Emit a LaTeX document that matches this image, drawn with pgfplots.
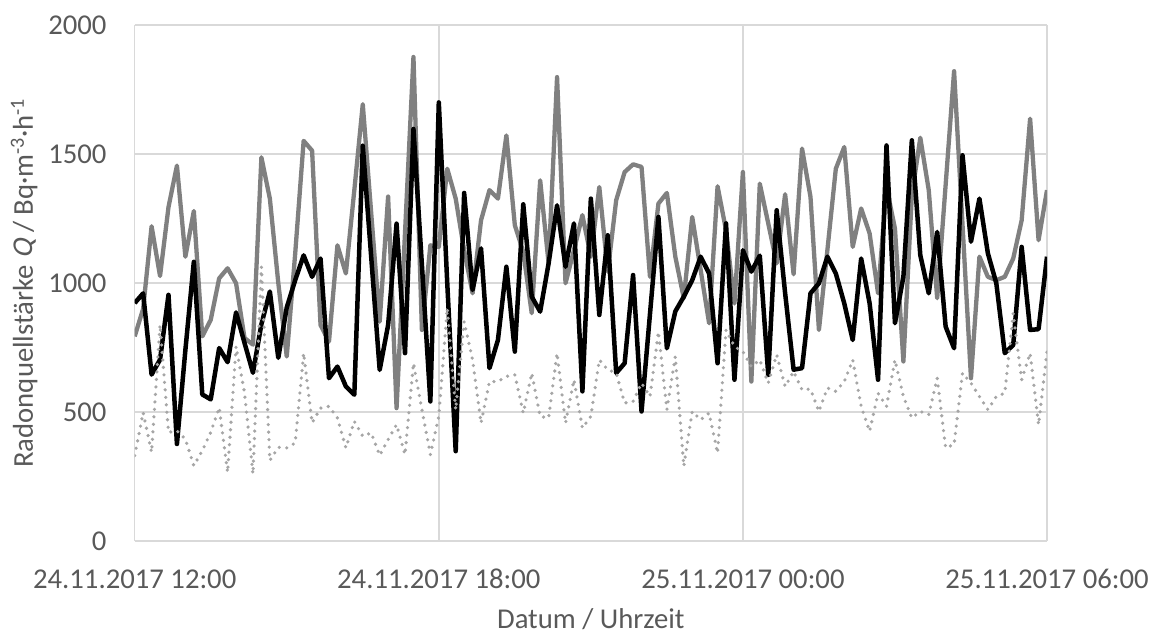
\documentclass[border=0pt]{standalone}
\usepackage{fontspec}
\setmainfont{Carlito}
\newfontfamily\slantfont{Carlito}[FakeSlant=0.2]
\usepackage{pgfplots}
\usepackage{pgfplotstable}
\pgfplotsset{compat=1.18}
\definecolor{txt}{HTML}{595959}
\definecolor{gridc}{HTML}{D9D9D9}
\definecolor{sgrey}{HTML}{808080}
\definecolor{sdot}{HTML}{A6A6A6}

\pgfplotstableread{
i g b d
0 793 922 331
1 900 960 498
2 1220 645 344
3 1027 703 838
4 1294 954 421
5 1455 376 427
6 1102 740 395
7 1279 1082 292
8 793 568 350
9 857 549 421
10 1018 748 517
11 1057 693 266
12 999 886 754
13 787 768 575
14 761 652 260
15 1487 840 1063
16 1327 967 312
17 1000 710 363
18 715 905 361
19 1114 1011 380
20 1551 1107 728
21 1513 1024 458
22 837 1095 515
23 773 631 522
24 1146 676 477
25 1037 599 361
26 1360 567 464
27 1693 1532 406
28 1270 1100 419
29 850 663 332
30 1335 837 393
31 515 1230 451
32 1195 728 335
33 1876 1597 689
34 818 1070 509
35 1146 541 335
36 1140 1700 483
37 1443 1000 902
38 1327 348 509
39 1127 1349 850
40 960 973 702
41 1243 1134 457
42 1360 670 618
43 1327 779 618
44 1572 1063 638
45 1224 734 644
46 1121 1305 496
47 883 947 651
48 1398 889 483
49 1076 1076 477
50 1798 1301 728
51 999 1063 457
52 1127 1231 625
53 1263 580 438
54 1102 1327 483
55 1372 876 702
56 1044 1185 664
57 1321 651 651
58 1430 689 535
59 1460 1031 541
60 1450 502 612
61 1024 880 560
62 1308 1256 811
63 1349 747 509
64 1102 890 715
65 941 947 290
66 1256 1011 502
67 1050 1102 470
68 844 1037 496
69 1375 689 341
70 1205 1231 818
71 921 625 754
72 1430 1127 734
73 618 1044 676
74 1385 1106 702
75 1231 644 612
76 1076 1282 722
77 1344 960 599
78 1034 664 657
79 1521 670 586
80 1334 960 589
81 818 999 502
82 1127 1102 593
83 1443 1037 580
84 1527 921 618
85 1140 779 702
86 1289 1095 522
87 1192 921 425
88 960 625 573
89 1372 1533 522
90 1211 844 702
91 696 1024 560
92 1340 1553 477
93 1563 1108 502
94 1360 960 490
95 941 1198 631
96 1380 831 361
97 1821 747 374
98 1225 1495 651
99 631 1160 612
100 1102 1327 560
101 1024 1115 509
102 1011 999 560
103 1024 728 573
104 1095 760 882
105 1243 1140 625
106 1637 818 728
107 1166 821 451
108 1360 1102 734
}\data

\begin{document}
\begin{tikzpicture}
\begin{axis}[
  at={(0pt,0pt)}, anchor=south west,
  scale only axis, width=912.3pt, height=516pt,
  xmin=0, xmax=108, ymin=0, ymax=2000,
  xtick={0,36,72,108},
  xticklabels={24.11.2017 12:00, 24.11.2017 18:00, 25.11.2017 00:00, 25.11.2017 06:00},
  ytick={0,500,1000,1500,2000},
  grid=major,
  major grid style={draw=gridc, line width=1.4pt},
  axis line style={draw=none},
  major tick length=0pt,
  tick label style={font=\fontsize{28.7}{34}\selectfont, text=txt},
  xticklabel style={anchor=base, inner sep=0pt, yshift=-47.5pt},
  yticklabel style={anchor=east, inner sep=0pt, xshift=-28pt},
  /pgf/number format/assume math mode=true,
  /pgf/number format/1000 sep={},
  label style={font=\fontsize{28.7}{34}\selectfont, text=txt},
  xlabel={Datum / Uhrzeit},
  ylabel={Radonquellstärke {\slantfont Q} / Bq·m\textsuperscript{-3}·h\textsuperscript{-1}},
  xlabel style={at={(axis description cs:0.5,-0.1690)}, anchor=base, inner sep=0pt},
  ylabel style={at={(axis description cs:-0.1115,0.5)}, anchor=base, inner sep=0pt},
]
\addplot[sgrey, line width=4.3pt, line join=round] table[x=i,y=g]{\data};
\addplot[black, line width=4.5pt, line join=round] table[x=i,y=b]{\data};
\addplot[sdot, line width=3.6pt, line cap=round, dash pattern=on 0pt off 7.5pt] table[x=i,y=d]{\data};
\end{axis}
\pgfresetboundingbox
\path[use as bounding box] (-134.7pt,-93pt) rectangle (1023.3pt,541pt);
\end{tikzpicture}
\end{document}
